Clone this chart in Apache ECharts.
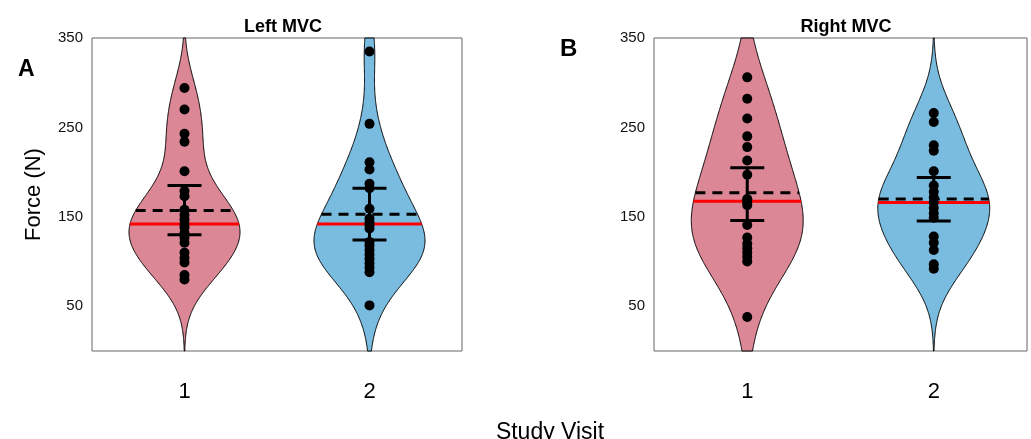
<!DOCTYPE html>
<html>
<head>
<meta charset="utf-8">
<script src="https://cdn.jsdelivr.net/npm/echarts@6/dist/echarts.min.js"></script>
<style>
  html, body { margin: 0; padding: 0; background: #fff; }
  #chart { width: 1031px; height: 439px; }
</style>
</head>
<body>
<div id="chart"></div>
<script>
// Study visits on the x axis
const categories = ['1', '2'];
const yTickLabels = [50, 150, 250, 350];

// Maximal voluntary contraction force (N), one value per participant
const leftVisit1 = [294, 270, 243, 234, 201, 179, 173, 158, 152, 147, 142, 138, 132, 127, 121, 110, 104, 99, 85, 80];
const leftVisit2 = [335, 254, 211, 203, 187, 182, 159, 148, 144, 141, 137, 122, 118, 113, 108, 103, 98, 93, 88, 51];
const rightVisit1 = [306, 282, 260, 240, 228, 213, 197, 170, 169, 166, 163, 141, 127, 120, 115, 110, 105, 100, 38];
const rightVisit2 = [266, 256, 230, 224, 201, 185, 178, 172, 166, 160, 154, 149, 128, 121, 113, 97, 92];

// Summary statistics per visit
const leftMedian = [142, 142];
const leftMean = [157, 153];
const leftCiLow = [130, 124];
const leftCiHigh = [185, 182];
const rightMedian = [167.5, 166];
const rightMean = [177, 170];
const rightCiLow = [146, 145.5];
const rightCiHigh = [205, 194];

const fills = ['#dc8796', '#79bce0'];
const Y_MIN = 0, Y_MAX = 350;
const HALF_WIDTH = 0.3; // violin half width as a fraction of the category band

// Gaussian kernel density with a robust normal-reference bandwidth
function kdeProfile(values) {
  const n = values.length;
  const med = a => { const s = a.slice().sort((p, q) => p - q); const m = s.length >> 1; return s.length % 2 ? s[m] : (s[m - 1] + s[m]) / 2; };
  const m = med(values);
  const sig = med(values.map(v => Math.abs(v - m))) / 0.6745;
  const h = sig * Math.pow(4 / (3 * n), 0.2);
  const dens = y => values.reduce((s, v) => s + Math.exp(-0.5 * ((y - v) / h) ** 2), 0);
  const ys = [];
  for (let y = Y_MIN; y <= Y_MAX; y += 1) ys.push(y);
  const d = ys.map(dens);
  const peak = Math.max(...d);
  return { ys, d: d.map(v => v / peak), at: y => dens(y) / peak };
}

function violinSeries(gridIndex, sets) {
  const profiles = sets.map(kdeProfile);
  return {
    type: 'custom', xAxisIndex: gridIndex, yAxisIndex: gridIndex, z: 1, silent: true,
    data: sets.map((s, i) => [i, 0]),
    renderItem: (params, api) => {
      const i = params.dataIndex;
      const prof = profiles[i];
      const cx = api.coord([i, 0])[0];
      const half = api.size([1, 0])[0] * HALF_WIDTH;
      const right = [], left = [];
      prof.ys.forEach((y, k) => {
        const py = api.coord([i, y])[1];
        right.push([cx + half * prof.d[k], py]);
        left.push([cx - half * prof.d[k], py]);
      });
      const pts = right.concat(left.reverse());
      return { type: 'polygon', shape: { points: pts }, style: { fill: fills[i], stroke: '#000', lineWidth: 1 } };
    }
  };
}

function levelSeries(gridIndex, sets, levels, color, dashed) {
  const profiles = sets.map(kdeProfile);
  return {
    type: 'custom', xAxisIndex: gridIndex, yAxisIndex: gridIndex, z: 2, silent: true,
    data: levels.map((v, i) => [i, v]),
    renderItem: (params, api) => {
      const i = api.value(0), v = api.value(1);
      const p = api.coord([i, v]);
      const half = api.size([1, 0])[0] * HALF_WIDTH * profiles[i].at(v);
      return {
        type: 'line',
        shape: { x1: p[0] - half, y1: p[1], x2: p[0] + half, y2: p[1] },
        style: { stroke: color, lineWidth: 3, lineDash: dashed ? [10, 7] : null }
      };
    }
  };
}

function errorSeries(gridIndex, lows, highs) {
  return {
    type: 'custom', xAxisIndex: gridIndex, yAxisIndex: gridIndex, z: 3, silent: true,
    data: lows.map((v, i) => [i, v, highs[i]]),
    renderItem: (params, api) => {
      const i = api.value(0);
      const lo = api.coord([i, api.value(1)]);
      const hi = api.coord([i, api.value(2)]);
      const cap = 17;
      const st = { stroke: '#000', lineWidth: 3 };
      return {
        type: 'group', children: [
          { type: 'line', shape: { x1: lo[0], y1: lo[1], x2: hi[0], y2: hi[1] }, style: st },
          { type: 'line', shape: { x1: lo[0] - cap, y1: lo[1], x2: lo[0] + cap, y2: lo[1] }, style: st },
          { type: 'line', shape: { x1: hi[0] - cap, y1: hi[1], x2: hi[0] + cap, y2: hi[1] }, style: st }
        ]
      };
    }
  };
}

function dotSeries(gridIndex, sets) {
  const data = [];
  sets.forEach((s, i) => s.forEach(v => data.push([i, v])));
  return {
    type: 'scatter', xAxisIndex: gridIndex, yAxisIndex: gridIndex, z: 4, silent: true,
    symbol: 'circle', symbolSize: 10, itemStyle: { color: '#000', opacity: 1 }, data
  };
}

const FONT = 'Liberation Sans, Arial, sans-serif';

function xAxisFor(gridIndex) {
  return {
    type: 'category', gridIndex, data: categories, boundaryGap: true,
    axisLine: { show: false }, axisTick: { show: false },
    axisLabel: { fontFamily: FONT, fontSize: 22, color: '#000', margin: 30 },
    splitLine: { show: false }
  };
}
function yAxisFor(gridIndex, name) {
  return {
    type: 'value', gridIndex, min: Y_MIN, max: Y_MAX, interval: 50,
    name, nameLocation: 'middle', nameGap: 47,
    nameTextStyle: { fontFamily: FONT, fontSize: 22, color: '#000' },
    axisLine: { show: false }, axisTick: { show: false }, splitLine: { show: false },
    axisLabel: {
      fontFamily: FONT, fontSize: 15, color: '#111', margin: 9,
      formatter: v => yTickLabels.includes(v) ? String(v) : ''
    }
  };
}

const chart = echarts.init(document.getElementById('chart'), null, { renderer: 'canvas' });
chart.setOption({
  animation: false,
  backgroundColor: '#fff',
  title: [
    { text: 'Left MVC', left: 278, top: 13, textAlign: 'center', textStyle: { fontFamily: FONT, fontSize: 18, fontWeight: 'bold', color: '#000' } },
    { text: 'Right MVC', left: 841, top: 13, textAlign: 'center', textStyle: { fontFamily: FONT, fontSize: 18, fontWeight: 'bold', color: '#000' } },
    { text: 'A', left: 13, top: 53, textStyle: { fontFamily: FONT, fontSize: 23, fontWeight: 'bold', color: '#000' } },
    { text: 'B', left: 555, top: 32, textStyle: { fontFamily: FONT, fontSize: 24, fontWeight: 'bold', color: '#000' } },
    { text: 'Study Visit', left: 545, top: 416, textAlign: 'center', textStyle: { fontFamily: FONT, fontSize: 23, fontWeight: 'normal', color: '#000' } }
  ],
  grid: [
    { left: 92, right: 569, top: 38, bottom: 88, show: true, borderColor: '#666', borderWidth: 1, backgroundColor: '#fff' },
    { left: 654, right: 4, top: 38, bottom: 88, show: true, borderColor: '#666', borderWidth: 1, backgroundColor: '#fff' }
  ],
  xAxis: [xAxisFor(0), xAxisFor(1)],
  yAxis: [yAxisFor(0, 'Force (N)'), yAxisFor(1, '')],
  series: [
    violinSeries(0, [leftVisit1, leftVisit2]),
    levelSeries(0, [leftVisit1, leftVisit2], leftMedian, '#ff0000', false),
    levelSeries(0, [leftVisit1, leftVisit2], leftMean, '#000', true),
    errorSeries(0, leftCiLow, leftCiHigh),
    dotSeries(0, [leftVisit1, leftVisit2]),
    violinSeries(1, [rightVisit1, rightVisit2]),
    levelSeries(1, [rightVisit1, rightVisit2], rightMedian, '#ff0000', false),
    levelSeries(1, [rightVisit1, rightVisit2], rightMean, '#000', true),
    errorSeries(1, rightCiLow, rightCiHigh),
    dotSeries(1, [rightVisit1, rightVisit2])
  ]
});
</script>
</body>
</html>
